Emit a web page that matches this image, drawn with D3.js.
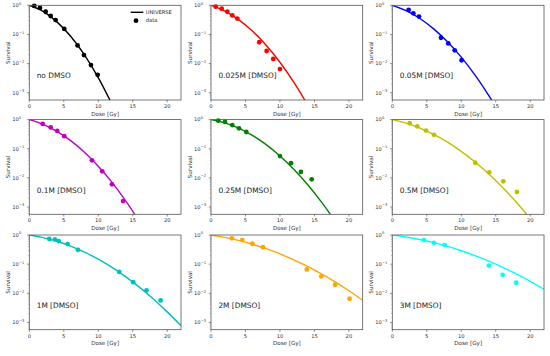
<!DOCTYPE html>
<html>
<head>
<meta charset="utf-8">
<script src="https://cdn.jsdelivr.net/npm/d3@7"></script>
<style>
  body { margin: 0; background: #fff; }
  svg { display: block; font-family: "DejaVu Sans", sans-serif; }
</style>
</head>
<body>
<div id="chart"></div>
<script>
// panel titles and colours (matplotlib short colour names)
var labels = ["no DMSO", "0.025M [DMSO]", "0.05M [DMSO]", "0.1M [DMSO]", "0.25M [DMSO]",
              "0.5M [DMSO]", "1M [DMSO]", "2M [DMSO]", "3M [DMSO]"];
var colors = ["#000000", "#ff0000", "#0000ff", "#bf00bf", "#008000",
              "#bfbf00", "#00bfbf", "#ffa500", "#00ffff"];

// measured points, dose [Gy]
var dataDose = [
  [0.72, 1.55, 2.37, 3.1, 3.82, 5.07, 7.0, 7.93, 8.94, 9.91],
  [0.68, 1.55, 2.37, 3.09, 3.82, 7.0, 8.07, 9.03, 10.0],
  [2.37, 3.05, 3.87, 7.06, 8.12, 9.05, 10.06],
  [1.94, 3.1, 4.06, 5.07, 9.09, 10.58, 11.99, 13.6],
  [1.06, 2.03, 3.09, 4.06, 5.12, 10.0, 11.6, 13.04, 14.6],
  [2.52, 3.62, 4.88, 6.04, 12.03, 14.06, 16.1, 18.07],
  [2.9, 3.72, 4.26, 5.56, 7.06, 13.04, 15.07, 17.0, 19.04],
  [3.04, 4.54, 5.99, 7.54, 13.9, 16.0, 18.0, 20.1],
  [4.59, 6.04, 7.59, 14.0, 16.0, 17.97]
];
// measured survival
var dataSurv = [
  [0.95, 0.81, 0.60, 0.43, 0.31, 0.155, 0.042, 0.0196, 0.0089, 0.0041],
  [0.90, 0.76, 0.60, 0.45, 0.35, 0.054, 0.027, 0.0144, 0.0065],
  [0.69, 0.53, 0.41, 0.077, 0.049, 0.0285, 0.013],
  [0.71, 0.54, 0.41, 0.27, 0.040, 0.0168, 0.006, 0.0016],
  [0.92, 0.83, 0.65, 0.50, 0.375, 0.056, 0.032, 0.016, 0.0089],
  [0.75, 0.59, 0.42, 0.30, 0.033, 0.0155, 0.0076, 0.0033],
  [0.73, 0.71, 0.62, 0.49, 0.31, 0.054, 0.024, 0.0126, 0.0057],
  [0.77, 0.67, 0.50, 0.38, 0.066, 0.038, 0.0196, 0.0065],
  [0.67, 0.54, 0.45, 0.089, 0.043, 0.023]
];

var curveDose = [0, 2, 4, 6, 8, 10, 12, 14, 16, 18, 20, 22];
var curveSurv = [
  [1, 0.62, 0.27, 0.087, 0.020, 0.0033, 0.0004],
  [1, 0.635, 0.323, 0.131, 0.0427, 0.0111, 0.0023, 0.00039],
  [1, 0.656, 0.352, 0.155, 0.056, 0.0166, 0.0040, 0.0008, 0.00013],
  [1, 0.69, 0.396, 0.19, 0.0758, 0.0252, 0.007, 0.0016, 0.00031],
  [1, 0.772, 0.509, 0.286, 0.138, 0.0564, 0.0197, 0.0059, 0.0015, 0.00033],
  [1, 0.757, 0.512, 0.31, 0.168, 0.0813, 0.0351, 0.0136, 0.0047, 0.00146, 0.0004],
  [1, 0.816, 0.609, 0.416, 0.259, 0.148, 0.0771, 0.0367, 0.016, 0.0064, 0.0023, 0.00078],
  [1, 0.83, 0.651, 0.483, 0.339, 0.224, 0.14, 0.083, 0.0463, 0.0245, 0.0122, 0.00575],
  [1, 0.857, 0.70, 0.546, 0.406, 0.288, 0.195, 0.126, 0.078, 0.0459, 0.0258, 0.0138]
];

var xTicks = [0, 5, 10, 15, 20];
var yTicks = [1, 0.1, 0.01, 0.001];
var yExp = ["0", "\u22121", "\u22122", "\u22123"];

var width = 550, height = 356;
var colLeft = [29.3, 211, 392.3];
var rowTop = [5.3, 119.6, 235];
var pw = 151.7, ph = 94.7;

var svg = d3.select("#chart").append("svg")
	.attr("width", width)
	.attr("height", height);

var x = d3.scaleLinear().domain([0, 22]).range([0, pw]);
var y = d3.scaleLog().domain([Math.pow(10, -3.25), 1]).range([ph, 0]);

var line = d3.line()
	.x(function(d) { return x(d[0]); })
	.y(function(d) { return y(d[1]); })
	.curve(d3.curveMonotoneX);

labels.forEach(function(lab, i) {
	var g = svg.append("g")
		.attr("transform", "translate(" + colLeft[i % 3] + "," + rowTop[Math.floor(i / 3)] + ")");

	g.append("clipPath").attr("id", "clip" + i)
		.append("rect").attr("width", pw).attr("height", ph);

	// x ticks
	xTicks.forEach(function(t) {
		g.append("line").attr("x1", x(t)).attr("x2", x(t))
			.attr("y1", ph).attr("y2", ph + 2.2)
			.attr("stroke", "#444").attr("stroke-width", 0.6);
		g.append("text").attr("x", x(t)).attr("y", ph + 8)
			.attr("text-anchor", "middle").attr("font-size", 5.2).attr("fill", "#333")
			.text(t);
	});
	// y ticks, 10^n labels
	yTicks.forEach(function(t, k) {
		g.append("line").attr("x1", -2.2).attr("x2", 0)
			.attr("y1", y(t)).attr("y2", y(t))
			.attr("stroke", "#444").attr("stroke-width", 0.6);
		var tx = g.append("text").attr("x", -10.5).attr("y", y(t) + 1.8)
			.attr("text-anchor", "end").attr("font-size", 5.2).attr("fill", "#333");
		tx.text("10");
		g.append("text").attr("x", -10.2).attr("y", y(t) - 0.6)
			.attr("font-size", 3.6).attr("fill", "#333")
			.text(yExp[k]);
	});
	// minor ticks on log axis
	for (var e = -4; e < 0; e++) {
		for (var m = 2; m < 10; m++) {
			var v = m * Math.pow(10, e);
			if (v < y.domain()[0]) continue;
			g.append("line").attr("x1", -1.2).attr("x2", 0)
				.attr("y1", y(v)).attr("y2", y(v))
				.attr("stroke", "#666").attr("stroke-width", 0.4);
		}
	}

	// model curve
	var pts = curveSurv[i].map(function(s, k) { return [curveDose[k], s]; });
	g.append("path").datum(pts)
		.attr("clip-path", "url(#clip" + i + ")")
		.attr("fill", "none")
		.attr("stroke", colors[i])
		.attr("stroke-width", 1.4)
		.attr("d", line);

	// data points
	g.selectAll("circle.pt")
		.data(dataDose[i].map(function(dd, k) { return [dd, dataSurv[i][k]]; }))
		.enter().append("circle")
		.attr("class", "pt")
		.attr("cx", function(d) { return x(d[0]); })
		.attr("cy", function(d) { return y(d[1]); })
		.attr("r", 2.4)
		.attr("fill", colors[i]);

	// frame
	g.append("rect").attr("width", pw).attr("height", ph)
		.attr("fill", "none").attr("stroke", "#555").attr("stroke-width", 0.8);

	// panel label
	g.append("text").attr("x", 7.4).attr("y", 73.2)
		.attr("font-size", 7.4).attr("fill", "#222")
		.text(lab);

	// axis titles
	g.append("text").attr("x", pw / 2).attr("y", ph + 15.6)
		.attr("text-anchor", "middle").attr("font-size", 5.6).attr("fill", "#333")
		.text("Dose [Gy]");
	g.append("text")
		.attr("transform", "translate(-19.5," + (ph / 2) + ") rotate(-90)")
		.attr("text-anchor", "middle").attr("font-size", 5.6).attr("fill", "#333")
		.text("Survival");

	// legend only in first panel
	if (i == 0) {
		g.append("line").attr("x1", 101.4).attr("x2", 114)
			.attr("y1", 7).attr("y2", 7)
			.attr("stroke", "#000").attr("stroke-width", 1.4);
		g.append("text").attr("x", 116.4).attr("y", 8.8)
			.attr("font-size", 5.2).attr("fill", "#222").text("UNIVERSE");
		g.append("circle").attr("cx", 106.7).attr("cy", 15.4).attr("r", 2.4).attr("fill", "#000");
		g.append("text").attr("x", 116.4).attr("y", 17.2)
			.attr("font-size", 5.2).attr("fill", "#222").text("data");
	}
});
</script>
</body>
</html>
